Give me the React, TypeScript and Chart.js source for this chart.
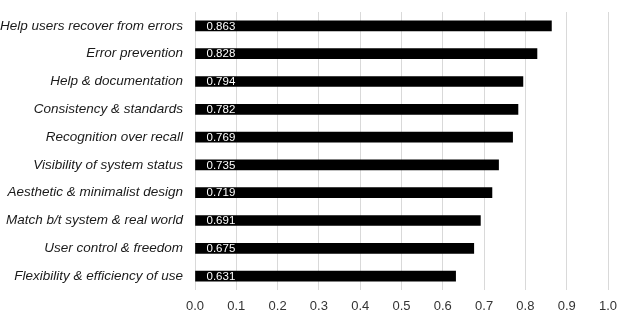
import React, { useEffect, useRef } from "react";
import { Chart, registerables } from "chart.js";

Chart.register(...registerables);

const categories = [
  "Help users recover from errors",
  "Error prevention",
  "Help & documentation",
  "Consistency & standards",
  "Recognition over recall",
  "Visibility of system status",
  "Aesthetic & minimalist design",
  "Match b/t system & real world",
  "User control & freedom",
  "Flexibility & efficiency of use",
];
const values = [0.863, 0.828, 0.794, 0.782, 0.769, 0.735, 0.719, 0.691, 0.675, 0.631];
const xTicks = [0, 0.1, 0.2, 0.3, 0.4, 0.5, 0.6, 0.7, 0.8, 0.9, 1.0];

const FONT = "'Liberation Sans', Arial, sans-serif";

const valueLabels = {
  id: "valueLabels",
  afterDatasetsDraw(chart: any) {
    const ctx = chart.ctx;
    const meta = chart.getDatasetMeta(0);
    ctx.save();
    ctx.fillStyle = "#ffffff";
    ctx.font = `11.5px ${FONT}`;
    ctx.textAlign = "left";
    ctx.textBaseline = "middle";
    meta.data.forEach((bar: any, i: number) => {
      const v = chart.data.datasets[0].data[i] as number;
      ctx.fillText(v.toFixed(3), bar.base + 11, bar.y + 0.5);
    });
    ctx.restore();
  },
};

export default function App() {
  const ref = useRef<HTMLCanvasElement>(null);
  useEffect(() => {
    if (!ref.current) return;
    const chart = new Chart(ref.current, {
      type: "bar",
      data: {
        labels: categories,
        datasets: [
          {
            data: values,
            backgroundColor: "#000000",
            borderWidth: 0,
            barThickness: 10,
          },
        ],
      },
      options: {
        indexAxis: "y",
        animation: false,
        responsive: true,
        maintainAspectRatio: false,
        layout: { padding: { top: 12, right: 10, left: 0, bottom: 0 } },
        plugins: { legend: { display: false }, tooltip: { enabled: false } },
        scales: {
          x: {
            min: 0,
            max: 1,
            afterBuildTicks: (scale: any) => {
              scale.ticks = xTicks.map((v) => ({ value: v }));
            },
            afterFit: (scale: any) => {
              scale.height = 34;
              scale.paddingLeft = 0;
              scale.paddingRight = 0;
            },
            grid: { color: "#d9d9d9", drawTicks: false },
            border: { display: false },
            ticks: {
              padding: 9,
              color: "#333333",
              font: { family: FONT, size: 13 },
              callback: (v: any) => Number(v).toFixed(1),
              maxRotation: 0,
            },
          },
          y: {
            afterFit: (scale: any) => {
              scale.width = 195;
              scale.paddingTop = 0;
              scale.paddingBottom = 0;
            },
            grid: { display: false, drawTicks: false },
            border: { display: false },
            ticks: {
              padding: 12,
              color: "#1a1a1a",
              font: { family: FONT, size: 13.5, style: "italic" },
            },
          },
        },
      },
      plugins: [valueLabels],
    });
    return () => chart.destroy();
  }, []);
  return (
    <div style={{ position: "fixed", left: 0, top: 0, width: 618, height: 324, background: "#fff" }}>
      <canvas ref={ref} />
    </div>
  );
}
